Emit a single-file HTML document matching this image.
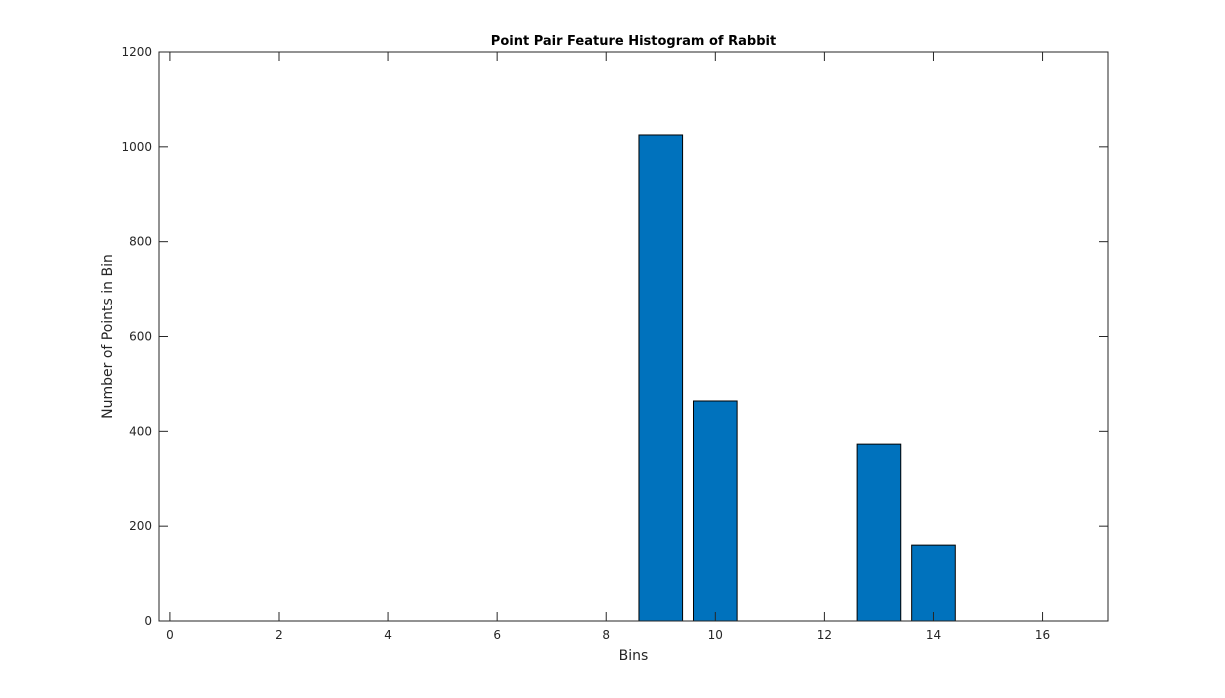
<!DOCTYPE html>
<html><head><meta charset="utf-8">
<style>
html,body{margin:0;padding:0;background:#fff;}
svg{display:block;font-family:"DejaVu Sans","Liberation Sans",sans-serif;}
</style></head>
<body>
<svg id="chart" width="1225" height="698" xmlns="http://www.w3.org/2000/svg">
<rect width="1225" height="698" fill="#fff"/>
<g id="plot"></g>
</svg>
<script>
const bins = [1,2,3,4,5,6,7,8,9,10,11,12,13,14,15,16];
const counts = [0,0,0,0,0,0,0,0,1025,464,0,0,373,160,0,0];
const xTicks = [0,2,4,6,8,10,12,14,16];
const yTicks = [0,200,400,600,800,1000,1200];

const L=159,R=1108,T=52,B=621;
const xMin=-0.2,xMax=17.2,yMin=0,yMax=1200;
const X=v=>L+(v-xMin)/(xMax-xMin)*(R-L);
const Y=v=>B-(v-yMin)/(yMax-yMin)*(B-T);
const NS="http://www.w3.org/2000/svg";
const g=document.getElementById('plot');
function mk(tag,attrs,parent){const e=document.createElementNS(NS,tag);for(const k in attrs)e.setAttribute(k,attrs[k]);(parent||g).appendChild(e);return e;}

const bw=0.8;
bins.forEach((b,i)=>{
  if(counts[i]<=0) return;
  const x0=X(b-bw/2),x1=X(b+bw/2),y=Y(counts[i]);
  const r=mk('rect',{x:x0,y:Math.min(y,B),width:x1-x0,height:Math.abs(B-y),fill:'#0072BD',stroke:'#000','stroke-width':1});
  
  
});

const box=mk('rect',{x:L,y:T,width:R-L,height:B-T,fill:'none',stroke:'#262626','stroke-width':1});



xTicks.forEach(t=>{
  const x=X(t);
  mk('line',{x1:x,y1:B,x2:x,y2:B-9,stroke:'#262626'});
  mk('line',{x1:x,y1:T,x2:x,y2:T+9,stroke:'#262626'});
  const tx=mk('text',{x:x,y:B+18,'text-anchor':'middle','font-size':12,fill:'#262626'});
  tx.textContent=t;
  
  
});
yTicks.forEach(t=>{
  const y=Y(t);
  mk('line',{x1:L,y1:y,x2:L+9,y2:y,stroke:'#262626'});
  mk('line',{x1:R,y1:y,x2:R-9,y2:y,stroke:'#262626'});
  const tx=mk('text',{x:L-7,y:y+4,'text-anchor':'end','font-size':12,fill:'#262626'});
  tx.textContent=t;
  
  
});

const title=mk('text',{x:(L+R)/2,y:45,'text-anchor':'middle','font-size':13,'font-weight':'bold',fill:'#000'});
title.textContent='Point Pair Feature Histogram of Rabbit';



const xl=mk('text',{x:(L+R)/2,y:660,'text-anchor':'middle','font-size':14,fill:'#262626'});
xl.textContent='Bins';



const yl=mk('text',{x:0,y:0,'text-anchor':'middle','font-size':14,fill:'#262626',transform:'translate(112,'+((T+B)/2)+') rotate(-90)'});
yl.textContent='Number of Points in Bin';


</script>
</body></html>
